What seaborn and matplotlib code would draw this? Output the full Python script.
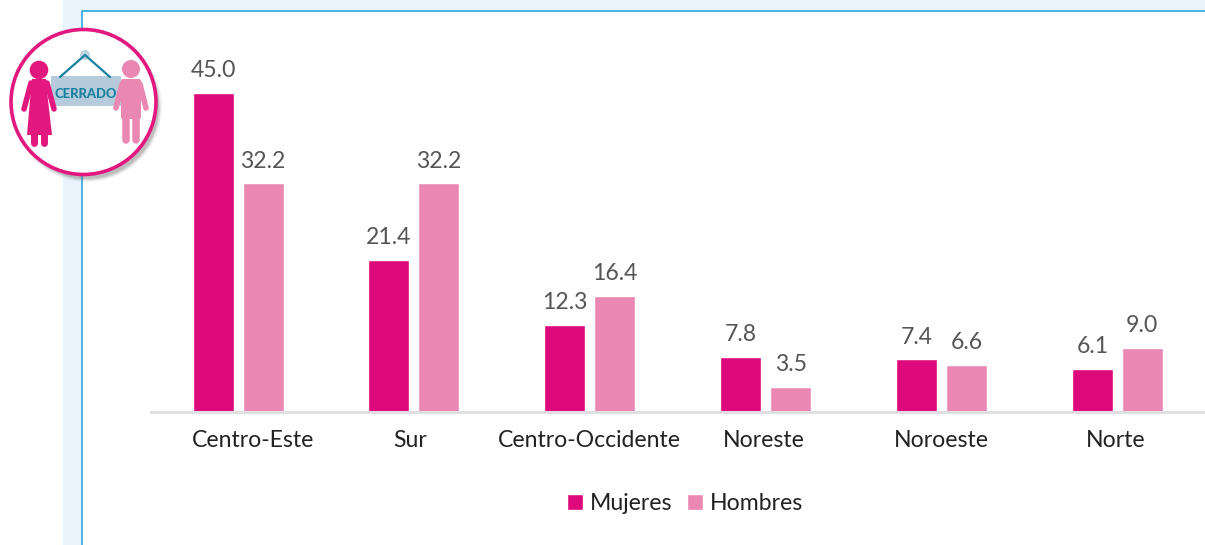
import matplotlib
matplotlib.use("Agg")
import matplotlib.pyplot as plt
import pandas as pd
import seaborn as sns
from matplotlib.patches import Circle, FancyBboxPatch, Polygon, Rectangle
from matplotlib.transforms import ScaledTranslation

regiones = ['Centro-Este', 'Sur', 'Centro-Occidente', 'Noreste', 'Noroeste', 'Norte']
mujeres = [45.0, 21.4, 12.3, 7.8, 7.4, 6.1]
hombres = [32.2, 32.2, 16.4, 3.5, 6.6, 9.0]

color_mujeres = '#DE0A7B'
color_hombres = '#EA87B2'

df = pd.DataFrame({
    'region': regiones * 2,
    'sexo': ['Mujeres'] * len(regiones) + ['Hombres'] * len(regiones),
    'valor': mujeres + hombres,
})

sns.set_style("white")
plt.rcParams['font.family'] = ['Lato', 'DejaVu Sans']

fig = plt.figure(figsize=(12.05, 5.45), dpi=100)

# background frame, in pixels of the picture
bg = fig.add_axes([0, 0, 1, 1], zorder=0)
bg.set_xlim(0, 1205)
bg.set_ylim(545, 0)
bg.axis('off')
bg.add_patch(Rectangle((63, 0), 1142, 11, color='#EAF3FB', lw=0))
bg.add_patch(Rectangle((63, 0), 18, 545, color='#EAF3FB', lw=0))
bg.plot([81.5, 81.5, 1205], [545, 10.5, 10.5], color='#3DAEE0', lw=1.3)

# the chart
ax = fig.add_axes([151 / 1205, (545 - 412) / 545, 1052 / 1205, 402 / 545], zorder=1)
ax.patch.set_alpha(0)
sns.barplot(data=df, x='region', y='valor', hue='sexo', order=regiones,
            palette={'Mujeres': color_mujeres, 'Hombres': color_hombres},
            width=0.568, gap=0.18, saturation=1, errorbar=None, ax=ax)
for c in ax.containers:
    ax.bar_label(c, fmt='%.1f', padding=8.5, fontsize=16.6, color='#555555')
ax.set_xlim(-0.495, 5.487)
ax.set_ylim(0, 402 / 7.1)
ax.set_xlabel('')
ax.set_ylabel('')
ax.set_yticks([])
ax.tick_params(axis='x', length=0, pad=13, labelsize=16.6, labelcolor='#222222')
sns.despine(ax=ax, left=True)
ax.spines['bottom'].set_color('#E0E0E0')
ax.spines['bottom'].set_linewidth(2.2)

# the labels do not sit exactly under the bars in the original
for lab, dx in zip(ax.get_xticklabels(), [15, -4, 0, -2, 0, -2]):
    lab.set_transform(lab.get_transform() + ScaledTranslation(dx / 100, 0, fig.dpi_scale_trans))

ax.legend(loc='center', bbox_to_anchor=(685 / 1205, (545 - 503.5) / 545), bbox_transform=fig.transFigure,
          ncol=2, frameon=False, fontsize=16.6, handlelength=0.68, handleheight=0.68,
          handletextpad=0.3, columnspacing=0.65, labelcolor='#222222')

# icon with the closed sign
ic = fig.add_axes([0, 0, 1, 1], zorder=2)
ic.set_xlim(0, 1205)
ic.set_ylim(545, 0)
ic.axis('off')
for r, a in [(75, 0.06), (74, 0.08), (73, 0.12), (72, 0.18)]:
    ic.add_patch(Circle((87, 107), r, color='#555555', alpha=a, lw=0))
ic.add_patch(Circle((83.5, 102), 72.5, facecolor='white', edgecolor='#E2187F', lw=2.6))

ic.plot([60, 85, 110], [77, 55, 77], color='#17819F', lw=1.6)
ic.add_patch(Circle((85, 55), 5, color='#BFD2E0', lw=0))
ic.add_patch(Rectangle((51, 76), 70, 30, color='#B5CBDB', lw=0))
ic.text(85.5, 93.5, 'CERRADO', ha='center', va='center', fontsize=9.4,
        fontweight='black', color='#17819F')

# mujer
ic.add_patch(Circle((39, 70), 9.3, color='#E2187F', lw=0))
ic.add_patch(Polygon([(32, 79), (46, 79), (48, 100), (52, 135), (27, 135), (30, 100)],
                     color='#E2187F', lw=0))
for px, py in [([31, 24], [83, 109]), ([47, 54], [83, 109])]:
    ic.plot(px, py, color='#E2187F', lw=4, solid_capstyle='round')
for px in [34, 44]:
    ic.plot([px, px], [132, 143], color='#E2187F', lw=5, solid_capstyle='round')

# hombre
ic.add_patch(Circle((131, 69), 9, color='#EA87B2', lw=0))
ic.add_patch(FancyBboxPatch((123, 81), 16, 36, boxstyle='round,pad=2', color='#EA87B2', lw=0))
for px, py in [([122, 116], [84, 108]), ([140, 146], [84, 108])]:
    ic.plot(px, py, color='#EA87B2', lw=4, solid_capstyle='round')
for px in [126, 136]:
    ic.plot([px, px], [115, 140], color='#EA87B2', lw=5.4, solid_capstyle='round')

fig.savefig('out.png', dpi=100)
